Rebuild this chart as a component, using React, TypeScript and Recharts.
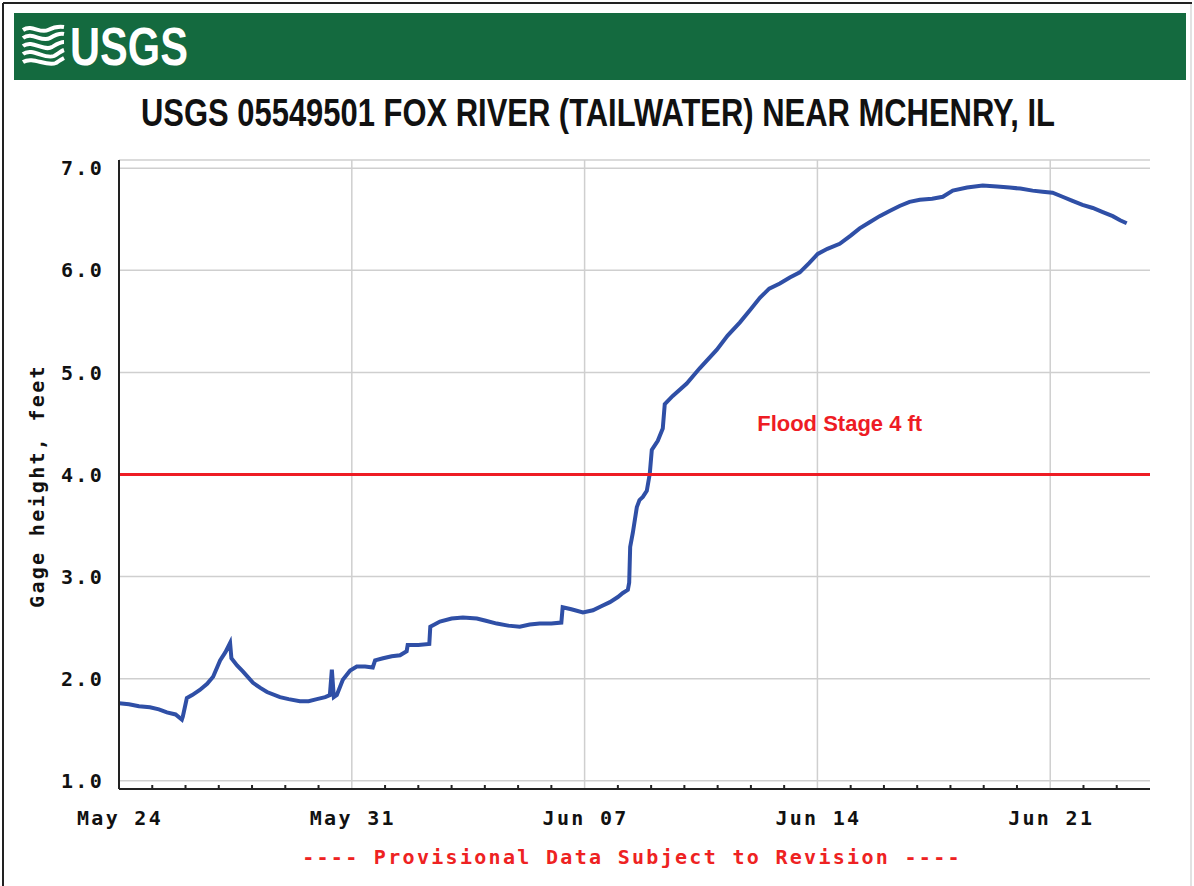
import React from 'react';
import { LineChart, Line, XAxis, YAxis, CartesianGrid, ReferenceLine, ReferenceDot } from 'recharts';

// Days since May 24 00:00
const dayOffsets = [
  0.0, 0.3, 0.6, 0.93, 1.2, 1.44, 1.7, 1.89, 1.92, 2.04, 2.2, 2.43, 2.65, 2.83, 3.04, 3.2, 3.34, 3.38, 3.55, 3.73,
  4.03, 4.25, 4.45, 4.84, 5.1, 5.44, 5.7, 5.95, 6.2, 6.34, 6.4, 6.46, 6.55, 6.73, 6.95, 7.15, 7.4, 7.63, 7.7, 7.94,
  8.2, 8.45, 8.65, 8.68, 9.0, 9.33, 9.36, 9.65, 10.0, 10.34, 10.76, 11.0, 11.36, 11.7, 12.05, 12.35, 12.65, 13.0, 13.3, 13.34,
  13.6, 13.95, 14.25, 14.5, 14.76, 15.0, 15.15, 15.3, 15.34, 15.37, 15.45, 15.57, 15.65, 15.75, 15.87, 15.96, 16.02, 16.2, 16.35, 16.41,
  16.65, 17.07, 17.46, 17.97, 18.3, 18.67, 19.0, 19.27, 19.55, 19.87, 20.17, 20.47, 20.75, 21.01, 21.3, 21.67, 22.0, 22.27, 22.57, 22.87,
  23.17, 23.47, 23.77, 24.08, 24.45, 24.77, 25.07, 25.5, 25.97, 26.4, 26.78, 27.1, 27.47, 27.77, 28.07, 28.37, 28.67, 28.97, 29.28, 29.58,
  29.88, 30.1, 30.3,
];

// Gage height, feet
const gageHeights = [
  1.76, 1.75, 1.73, 1.72, 1.7, 1.67, 1.65, 1.6, 1.63, 1.81, 1.84, 1.89, 1.95, 2.02, 2.18, 2.26, 2.35, 2.2, 2.13, 2.07,
  1.96, 1.91, 1.87, 1.82, 1.8, 1.78, 1.78, 1.8, 1.82, 1.84, 2.09, 1.82, 1.84, 1.99, 2.08, 2.12, 2.12, 2.11, 2.18, 2.2,
  2.22, 2.23, 2.27, 2.33, 2.33, 2.34, 2.51, 2.56, 2.59, 2.6, 2.59, 2.57, 2.54, 2.52, 2.51, 2.53, 2.54, 2.54, 2.55, 2.7,
  2.68, 2.65, 2.67, 2.71, 2.75, 2.8, 2.84, 2.87, 2.94, 3.29, 3.43, 3.68, 3.75, 3.78, 3.84, 4.01, 4.24, 4.33, 4.45, 4.69,
  4.77, 4.89, 5.04, 5.22, 5.36, 5.49, 5.62, 5.73, 5.82, 5.87, 5.93, 5.98, 6.07, 6.16, 6.21, 6.26, 6.34, 6.41, 6.47, 6.53,
  6.58, 6.63, 6.67, 6.69, 6.7, 6.72, 6.78, 6.81, 6.83, 6.82, 6.81, 6.8, 6.78, 6.77, 6.76, 6.72, 6.68, 6.64, 6.61, 6.57,
  6.53, 6.49, 6.46,
];

const majorTickDays = [0, 7, 14, 21, 28];
const majorTickLabels = ['May 24', 'May 31', 'Jun 07', 'Jun 14', 'Jun 21'];
const minorTickDays = [1, 2, 3, 4, 5, 6, 8, 9, 10, 11, 12, 13, 15, 16, 17, 18, 19, 20, 22, 23, 24, 25, 26, 27, 29, 30];
const allTickDays = [...majorTickDays, ...minorTickDays].sort((a, b) => a - b);
const xDomain = [0, 31];
const yTicks = [1, 2, 3, 4, 5, 6, 7];
const yDomain = [0.92, 7.08];

const floodStage = 4;
const floodLabel = 'Flood Stage 4 ft';
const floodLabelDay = 21.67;
const floodLabelHeight = 4.5;

const titleText = 'USGS 05549501 FOX RIVER (TAILWATER) NEAR MCHENRY, IL';
const yAxisTitle = 'Gage height, feet';
const footerText = '---- Provisional Data Subject to Revision ----';

const data = dayOffsets.map((d, i) => ({ day: d, height: gageHeights[i] }));

const mono: React.CSSProperties = {
  fontFamily: '"DejaVu Sans Mono", monospace',
  fontWeight: 700,
  fontSize: 20,
  letterSpacing: '2.3px',
  fill: '#111',
};

const BottomTick = (props: any) => {
  const { x, y, payload } = props;
  const idx = majorTickDays.indexOf(payload.value);
  if (idx >= 0) {
    return (
      <text x={x + 1} y={y + 36} textAnchor="middle" style={mono}>
        {majorTickLabels[idx]}
      </text>
    );
  }
  return <line x1={x} y1={y} x2={x} y2={y - 4} stroke="#222" strokeWidth={2} />;
};

const TopTick = (props: any) => {
  const { x, y, payload } = props;
  if (majorTickDays.indexOf(payload.value) >= 0) return <g />;
  return <line x1={x} y1={y} x2={x} y2={y + 4} stroke="#222" strokeWidth={2} />;
};

const LeftTick = (props: any) => {
  const { x, y, payload } = props;
  return (
    <text x={x + 3} y={y} dy="0.36em" textAnchor="end" style={mono}>
      {Number(payload.value).toFixed(1)}
    </text>
  );
};

export default function App() {
  return (
    <div style={{ position: 'absolute', left: 0, top: 0, width: 1194, height: 886, background: '#fff', overflow: 'hidden' }}>
      <svg width={1194} height={886} style={{ position: 'absolute', left: 0, top: 0 }}>
        {/* outer frame */}
        <line x1={3} y1={3} x2={1192} y2={3} stroke="#222" strokeWidth={2} />
        <line x1={3} y1={3} x2={3} y2={886} stroke="#222" strokeWidth={2} />
        <line x1={1191} y1={4} x2={1191} y2={886} stroke="#d8d8d8" strokeWidth={1.5} />
        {/* banner */}
        <rect x={14} y={13} width={1172} height={67} fill="#146a3f" />
        <g stroke="#fff" strokeWidth={4} fill="none">
          <path d="M23,30 C32,24 40,34 48,30 C54,27 58,26 64,27" />
          <path d="M23,38 C32,31 42,43 50,38 C55,35 59,33 64,34" />
          <path d="M23,46 C32,39 44,52 52,47 C57,44 60,42 64,42" />
          <path d="M23,54 C32,47 45,60 54,56 C58,54 61,51 64,50" />
          <path d="M23,62 C33,56 46,67 56,63 C59,61 62,59 64,58" />
        </g>
        <text x={70} y={65} textLength={118} lengthAdjust="spacingAndGlyphs" fill="#fff"
          style={{ fontFamily: '"Liberation Sans", Arial, sans-serif', fontWeight: 700, fontSize: 53 }}>USGS</text>
        {/* title */}
        <g transform="translate(598,126) scale(1,1.12)">
          <text x={0} y={0} textAnchor="middle" textLength={914} lengthAdjust="spacingAndGlyphs" fill="#111"
            style={{ fontFamily: '"Liberation Sans", Arial, sans-serif', fontWeight: 700, fontSize: 34 }}>{titleText}</text>
        </g>
        {/* y axis title */}
        <text transform="translate(44,486) rotate(-90)" textAnchor="middle" style={mono}>{yAxisTitle}</text>
        {/* footer */}
        <text x={632} y={864} textAnchor="middle" style={{ ...mono, fill: '#ee2222' }}>{footerText}</text>
      </svg>
      <div style={{ position: 'absolute', left: 0, top: 0 }}>
        <LineChart width={1194} height={886} data={data} margin={{ top: 160, right: 44, bottom: 57, left: 0 }}>
          <CartesianGrid vertical={false} stroke="#cfcfcf" strokeWidth={1.5} />
          {majorTickDays.slice(1).map((d) => (
            <ReferenceLine key={d} x={d} stroke="#cfcfcf" strokeWidth={1.5} />
          ))}
          <XAxis
            type="number"
            dataKey="day"
            domain={xDomain}
            ticks={allTickDays}
            interval={0}
            allowDataOverflow
            height={40}
            tickLine={false}
            tickSize={0}
            tickMargin={0}
            axisLine={{ stroke: '#222', strokeWidth: 2 }}
            tick={BottomTick}
          />
          <XAxis
            xAxisId="top"
            orientation="top"
            type="number"
            domain={xDomain}
            ticks={allTickDays}
            interval={0}
            allowDataOverflow
            height={0}
            tickLine={false}
            tickSize={0}
            tickMargin={0}
            axisLine={{ stroke: '#222', strokeWidth: 2 }}
            tick={TopTick}
          />
          <YAxis
            type="number"
            domain={yDomain}
            ticks={yTicks}
            interval={0}
            allowDataOverflow
            width={119}
            tickLine={false}
            tickSize={0}
            tickMargin={18}
            axisLine={{ stroke: '#222', strokeWidth: 2 }}
            tick={LeftTick}
          />
          <YAxis
            yAxisId="right"
            orientation="right"
            type="number"
            domain={yDomain}
            ticks={yTicks}
            allowDataOverflow
            width={0}
            tickLine={false}
            tick={false}
            axisLine={{ stroke: '#222', strokeWidth: 2 }}
          />
          <Line
            type="linear"
            dataKey="height"
            stroke="#2f4fa6"
            strokeWidth={4}
            dot={false}
            activeDot={false}
            isAnimationActive={false}
          />
          <ReferenceLine y={floodStage} stroke="#ee1c24" strokeWidth={3} />
          <ReferenceDot
            x={floodLabelDay}
            y={floodLabelHeight}
            r={0}
            stroke="none"
            fill="none"
            label={{
              value: floodLabel,
              position: 'center',
              fill: '#ee1c24',
              fontSize: 22,
              fontWeight: 700,
              fontFamily: '"Liberation Sans", Arial, sans-serif',
            }}
          />
        </LineChart>
      </div>
    </div>
  );
}
